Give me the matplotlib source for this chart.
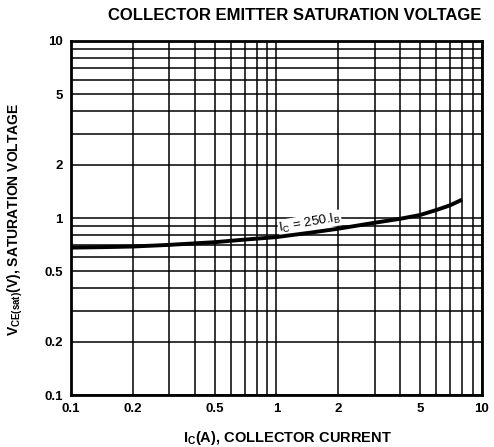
import matplotlib
matplotlib.use('Agg')
import matplotlib.pyplot as plt
from matplotlib.ticker import LogLocator, FixedLocator, FixedFormatter, NullFormatter

plt.rcParams['font.family'] = ['Liberation Sans', 'DejaVu Sans']
plt.rcParams['mathtext.fontset'] = 'custom'
plt.rcParams['mathtext.rm'] = 'Liberation Sans:bold'
plt.rcParams['mathtext.bf'] = 'Liberation Sans:bold'

# Curve: Ic = 250 * Ib
ic_amps = [0.1, 0.15, 0.2, 0.3, 0.5, 0.7, 1.0, 1.5, 2.0, 3.0, 4.0, 5.0, 6.0, 7.0, 8.0]
vce_sat = [0.68, 0.685, 0.69, 0.705, 0.73, 0.755, 0.78, 0.83, 0.87, 0.94, 0.99, 1.04, 1.11, 1.18, 1.27]

tick_values = [0.1, 0.2, 0.5, 1, 2, 5, 10]
tick_labels = ['0.1', '0.2', '0.5', '1', '2', '5', '10']

fig = plt.figure(figsize=(4.94, 4.47), dpi=100)
ax = fig.add_axes([0.1437, 0.1163, 0.832, 0.792])

ax.set_xscale('log')
ax.set_yscale('log')
ax.set_xlim(0.1, 10)
ax.set_ylim(0.1, 10)

ax.plot(ic_amps, vce_sat, color='black', linewidth=2.8, solid_capstyle='butt', zorder=3)

# full decade grid, every integer step
for axis in (ax.xaxis, ax.yaxis):
    axis.set_major_locator(FixedLocator(tick_values))
    axis.set_major_formatter(FixedFormatter(tick_labels))
    axis.set_minor_locator(LogLocator(base=10, subs=range(1, 10), numticks=20))
    axis.set_minor_formatter(NullFormatter())
ax.grid(True, which='both', color='black', linewidth=1.1)
ax.tick_params(which='both', length=0)
ax.tick_params(axis='both', labelsize=9.5, pad=6)
for lbl in ax.get_xticklabels() + ax.get_yticklabels():
    lbl.set_fontweight('bold')

for s in ax.spines.values():
    s.set_linewidth(2)

# label sits just above the curve, blanking the grid behind it
ax.text(1.45, 0.94, r'I$_{\mathregular{C}}$ = 250.I$_{\mathregular{B}}$', rotation=10,
        fontsize=9.5, ha='center', va='center', zorder=2.5,
        bbox=dict(facecolor='white', edgecolor='none', pad=0.3))

ax.set_title('COLLECTOR EMITTER SATURATION VOLTAGE', fontsize=12, fontweight='bold', pad=15, x=0.545)
ax.set_xlabel(r'I$_{\mathregular{C}}$(A), COLLECTOR CURRENT', fontsize=10.5, fontweight='bold')
ax.set_ylabel(r'V$_{\mathregular{CE(sat)}}$(V), SATURATION VOLTAGE', fontsize=10, fontweight='bold')
ax.xaxis.set_label_coords(0.526, -0.095)
ax.yaxis.set_label_coords(-0.112, 0.495)

fig.savefig('out.png', dpi=100)
